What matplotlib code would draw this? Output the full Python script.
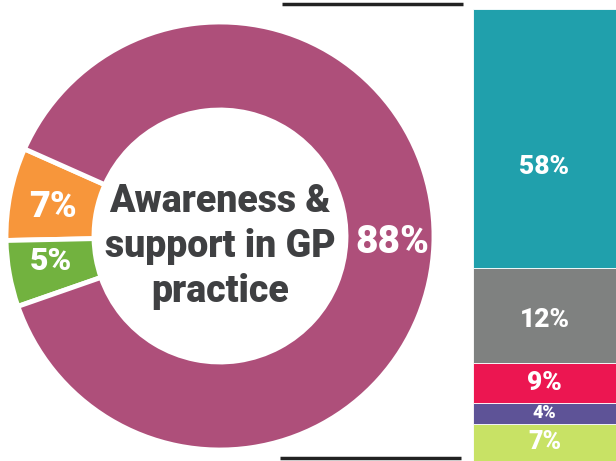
import matplotlib.pyplot as plt

# donut: awareness & support in GP practice
donut_labels = ['7%', '5%', '88%']
donut_values = [7, 5, 88]
donut_colors = ['#F7963B', '#72B23F', '#AE4F7A']
center_lines = ['Awareness &', 'support in GP', 'practice']

# stacked bar (segment sizes as drawn, bottom to top)
bar_labels = ['7%', '4%', '9%', '12%', '58%']
bar_sizes = [37, 21, 40, 95, 258]
bar_colors = ['#C8E265', '#5E5397', '#EC1651', '#7F8180', '#20A0AC']

plt.rcParams['font.family'] = ['Roboto', 'DejaVu Sans']

fig = plt.figure(figsize=(6.16, 4.61), dpi=100)
H = 461

# donut axes in pixel-like units
ax = fig.add_axes([0, 0, 1, 1])
ax.pie(donut_values, colors=donut_colors, startangle=156,
       counterclock=True, center=(220, H - 236), radius=214,
       wedgeprops=dict(width=88, edgecolor='white', linewidth=3.5))
ax.set_xlim(0, 616)
ax.set_ylim(0, H)
ax.set_aspect('equal')
ax.axis('off')

# donut value labels (baseline positions)
for lab, (x, y, fs) in zip(donut_labels, [(53, 217, 26), (51, 270, 23), (392, 253, 28)]):
    ax.text(x, H - y, lab, color='white', fontsize=fs, fontweight='black',
            ha='center', va='baseline')

for line, y in zip(center_lines, [212, 257, 302]):
    ax.text(220, H - y, line, color='#3F4042', fontsize=27,
            fontweight='black', ha='center', va='baseline')

# rules above and below
ax.plot([282, 463], [H - 4.5, H - 4.5], color='#222222', lw=2.5,
        solid_capstyle='butt')
ax.plot([280, 461], [H - 458, H - 458], color='#222222', lw=2.5,
        solid_capstyle='butt')

# stacked bar on the right
bx = fig.add_axes([473 / 616, 0, 143 / 616, 452 / H])
bx.set_xlim(0, 1)
bx.set_ylim(0, sum(bar_sizes))
bx.axis('off')
label_frac = [0.5, 0.5, 0.5, 0.45, 0.39]
label_fs = [18, 13, 19, 19, 19]
bottom = 0
for lab, size, col, frac, fs in zip(bar_labels, bar_sizes, bar_colors,
                                    label_frac, label_fs):
    bx.bar(0.5, size, width=1.0, bottom=bottom, color=col,
           edgecolor='white', linewidth=0.6)
    bx.text(0.5, bottom + size * frac, lab, color='white', fontsize=fs,
            fontweight='black', ha='center', va='center')
    bottom += size

fig.savefig('out.png', dpi=100)
